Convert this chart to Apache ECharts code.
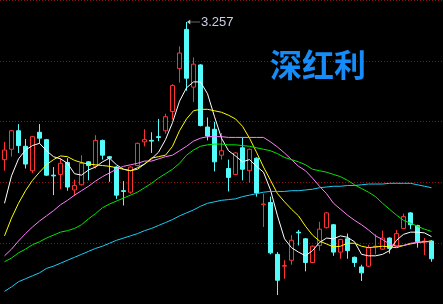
<!DOCTYPE html>
<html><head><meta charset="utf-8">
<script src="https://cdn.jsdelivr.net/npm/echarts@6/dist/echarts.min.js"></script>
<style>html,body{margin:0;padding:0;background:#000;}#c{width:443px;height:304px;}</style>
</head><body><div id="c"></div>
<script>
const titleText = '深红利';
const open = [3.071,3.085,3.110,3.089,3.056,3.108,3.098,3.050,3.051,3.067,3.030,3.037,3.068,3.062,3.097,3.075,3.061,3.029,3.027,3.063,3.095,3.097,3.102,3.110,3.136,3.194,3.247,3.169,3.199,3.115,3.112,3.077,3.059,3.051,3.087,3.056,3.073,3.010,3.013,2.943,2.927,2.935,2.973,2.964,2.932,2.955,2.979,2.983,2.946,2.964,2.939,2.926,2.927,2.953,2.950,2.965,2.954,2.978,2.999,2.982,2.960,2.961];
const close = [3.084,3.110,3.090,3.065,3.102,3.100,3.050,3.049,3.066,3.034,3.036,3.066,3.063,3.097,3.077,3.073,3.023,3.028,3.061,3.093,3.098,3.096,3.101,3.129,3.171,3.215,3.181,3.200,3.117,3.103,3.068,3.083,3.047,3.080,3.058,3.085,3.026,3.011,2.945,2.908,2.928,2.962,2.972,2.932,2.954,2.977,2.999,2.946,2.963,2.948,2.932,2.918,2.952,2.954,2.965,2.951,2.971,2.994,2.983,2.960,2.961,2.937];
const low = [3.056,3.075,3.080,3.059,3.053,3.093,3.049,3.023,3.031,3.029,3.022,3.036,3.043,3.059,3.071,3.041,3.018,3.009,3.025,3.062,3.089,3.080,3.096,3.106,3.125,3.175,3.164,3.149,3.116,3.097,3.055,3.071,3.028,3.050,3.043,3.040,3.021,2.980,2.943,2.888,2.910,2.929,2.955,2.920,2.931,2.948,2.978,2.941,2.937,2.937,2.926,2.907,2.926,2.943,2.949,2.944,2.953,2.977,2.977,2.952,2.942,2.933];
const high = [3.095,3.111,3.119,3.099,3.103,3.119,3.099,3.061,3.073,3.073,3.044,3.077,3.069,3.104,3.098,3.076,3.062,3.042,3.062,3.094,3.112,3.108,3.126,3.133,3.173,3.224,3.257,3.209,3.200,3.128,3.122,3.107,3.071,3.081,3.101,3.086,3.074,3.025,3.021,2.946,2.935,2.969,2.976,2.965,2.955,2.987,3.000,2.984,2.964,2.971,2.940,2.929,2.956,2.970,2.975,2.966,2.976,2.998,3.000,2.983,2.965,2.962];
const ma5 = [3.012,3.049,3.072,3.084,3.090,3.093,3.083,3.075,3.072,3.066,3.052,3.050,3.057,3.061,3.068,3.073,3.064,3.058,3.056,3.060,3.065,3.072,3.081,3.098,3.121,3.150,3.168,3.176,3.176,3.160,3.129,3.100,3.083,3.076,3.068,3.071,3.062,3.054,3.030,2.995,2.964,2.952,2.946,2.941,2.948,2.959,2.965,2.964,2.968,2.966,2.960,2.943,2.941,2.941,2.943,2.948,2.962,2.970,2.973,2.973,2.972,2.967];
const ma10 = [2.968,2.992,3.012,3.029,3.043,3.054,3.064,3.071,3.076,3.075,3.070,3.067,3.065,3.064,3.063,3.062,3.060,3.058,3.056,3.058,3.065,3.073,3.075,3.077,3.089,3.110,3.126,3.137,3.139,3.139,3.137,3.135,3.131,3.126,3.116,3.100,3.081,3.061,3.043,3.025,3.014,3.004,2.995,2.981,2.969,2.961,2.957,2.953,2.954,2.958,2.958,2.954,2.952,2.953,2.954,2.953,2.952,2.955,2.957,2.959,2.960,2.961];
const ma20 = [2.941,2.950,2.961,2.971,2.980,2.988,2.995,3.002,3.010,3.016,3.023,3.029,3.035,3.042,3.048,3.053,3.058,3.062,3.064,3.066,3.069,3.069,3.072,3.075,3.077,3.083,3.089,3.096,3.100,3.102,3.102,3.102,3.101,3.101,3.101,3.101,3.101,3.101,3.095,3.088,3.080,3.071,3.062,3.056,3.046,3.035,3.025,3.012,3.004,2.996,2.989,2.983,2.976,2.968,2.963,2.957,2.954,2.955,2.958,2.959,2.960,2.960];
const ma30 = [2.933,2.938,2.945,2.950,2.956,2.960,2.965,2.969,2.973,2.975,2.978,2.983,2.991,2.998,3.006,3.011,3.015,3.019,3.023,3.027,3.033,3.039,3.046,3.052,3.058,3.066,3.077,3.084,3.089,3.091,3.092,3.092,3.091,3.091,3.090,3.089,3.087,3.085,3.083,3.079,3.074,3.071,3.068,3.064,3.058,3.056,3.054,3.051,3.048,3.043,3.037,3.032,3.027,3.021,3.012,3.004,2.996,2.989,2.985,2.981,2.977,2.974];
const ma60 = [2.893,2.899,2.906,2.910,2.914,2.918,2.924,2.927,2.931,2.935,2.939,2.943,2.947,2.951,2.954,2.958,2.962,2.965,2.968,2.971,2.975,2.978,2.982,2.986,2.990,2.995,2.999,3.003,3.008,3.012,3.014,3.016,3.017,3.018,3.021,3.023,3.025,3.027,3.028,3.028,3.028,3.029,3.029,3.030,3.031,3.033,3.034,3.035,3.035,3.036,3.036,3.037,3.038,3.038,3.038,3.039,3.039,3.039,3.039,3.037,3.035,3.033];

const categories = open.map((_, i) => String(i + 1));
const kdata = open.map((o, i) => [o, close[i], low[i], high[i]]);

function maSeries(name, data, color) {
  return { name, type: 'line', data, xAxisIndex: 0, yAxisIndex: 0, showSymbol: false, symbol: 'none',
    smooth: false, z: 5, silent: true, lineStyle: { color, width: 1 } };
}

const chart = echarts.init(document.getElementById('c'), null, { renderer: 'canvas' });
chart.setOption({
  backgroundColor: '#000000',
  animation: false,
  title: { text: titleText, left: 270, top: 49, padding: 0,
    textStyle: { color: '#168cf8', fontSize: 32, fontWeight: 'bold', fontFamily: 'Noto Sans CJK SC' } },
  grid: [
    { left: 1, right: 8, top: 0, bottom: 0 },
    { left: 0, right: 0, top: -15, bottom: -51 }
  ],
  xAxis: [
    { type: 'category', data: categories, gridIndex: 0, show: false, boundaryGap: true },
    { type: 'value', gridIndex: 1, show: false, min: 0, max: 1 }
  ],
  yAxis: [
    { type: 'value', gridIndex: 0, show: false, min: 2.8759, max: 3.2867, splitLine: { show: false } },
    { type: 'value', gridIndex: 1, min: 0, max: 370, interval: 74,
      axisLine: { show: false }, axisTick: { show: false }, axisLabel: { show: false },
      splitLine: { show: true, lineStyle: { color: '#8c1010', type: [1, 2], width: 1 } } }
  ],
  series: [
    { type: 'candlestick', data: kdata, xAxisIndex: 0, yAxisIndex: 0, barWidth: 5, z: 3,
      itemStyle: { color: '#000000', color0: '#54fcfc', borderColor: '#ff3232', borderColor0: '#54fcfc', borderWidth: 1 },
      markPoint: {
        silent: true,
        symbol: 'path://M0,3 L4,0 L4,2.6 L16,2.6 L16,3.4 L4,3.4 L4,6 Z',
        symbolSize: [13, 5], symbolOffset: [7, 0],
        itemStyle: { color: '#c8c8c8' },
        label: { show: true, position: 'right', distance: 1, color: '#c8d0e0', fontSize: 13, fontFamily: 'Liberation Sans' },
        data: [{ type: 'max', valueDim: 'highest' }]
      } },
    maSeries('MA5', ma5, '#ffffff'),
    maSeries('MA10', ma10, '#ffff00'),
    maSeries('MA20', ma20, '#ff80ff'),
    maSeries('MA30', ma30, '#00e600'),
    maSeries('MA60', ma60, '#1ecbf5')
  ]
});
</script></body></html>
